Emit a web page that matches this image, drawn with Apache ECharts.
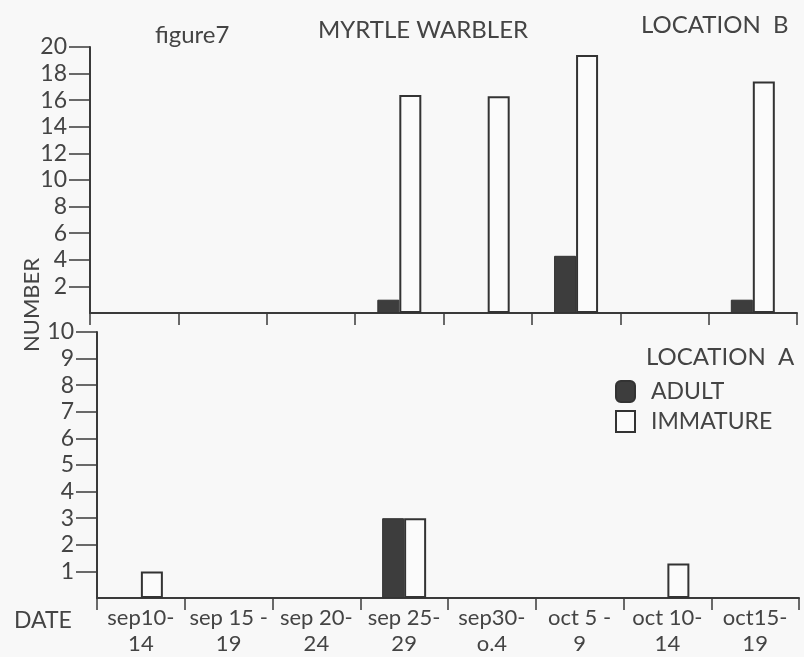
<!DOCTYPE html>
<html><head><meta charset="utf-8">
<script src="https://cdn.jsdelivr.net/npm/echarts@6/dist/echarts.min.js"></script>
<style>html,body{margin:0;padding:0;background:#f8f8f8}#c{width:804px;height:657px}</style>
</head><body><div id="c"></div>
<script>
// ---- data ----
const categories = ['sep10-\n14', 'sep 15 -\n19', 'sep 20-\n24', 'sep 25-\n29', 'sep30-\no.4', 'oct 5 -\n9', 'oct 10-\n14', 'oct15-\n19'];
const adultB = [0, 0, 0, 1, 0, 4.3, 0, 1];
const immatureB = [0, 0, 0, 16.4, 16.3, 19.4, 0, 17.4];
const adultA = [0, 0, 0, 3, 0, 0, 0, 0];
const immatureA = [1, 0, 0, 3, 0, 0, 1.3, 0];
const ticksB = [2, 4, 6, 8, 10, 12, 14, 16, 18, 20];
const ticksA = [1, 2, 3, 4, 5, 6, 7, 8, 9, 10];

const FONT = 'Lato, "DejaVu Sans", sans-serif';
const INK = '#3a3a3a';
const TXT = '#444';
const nz = a => a.map(v => (v === 0 ? null : v));

function xAxis(gi, showLabel) {
  return {
    gridIndex: gi, type: 'category', data: categories, boundaryGap: true,
    axisLine: { show: true, lineStyle: { color: INK, width: 2 } },
    axisTick: { show: true, length: 12, lineStyle: { color: INK, width: 1.5 } },
    axisLabel: { show: showLabel, interval: 0, fontFamily: FONT, fontSize: 22, lineHeight: 26, color: TXT, margin: 7 },
    splitLine: { show: false }
  };
}
function yAxis(gi, max, interval, ticks) {
  return {
    gridIndex: gi, type: 'value', min: 0, max: max, interval: interval,
    axisLine: { show: true, lineStyle: { color: INK, width: 2 } },
    axisTick: { show: true, length: 21, customValues: ticks, lineStyle: { color: INK, width: 1.5 } },
    axisLabel: { show: true, customValues: ticks, margin: 23, fontFamily: FONT, fontSize: 23, color: TXT },
    splitLine: { show: false }
  };
}
const adultStyle = { color: '#3d3d3d', borderColor: '#333', borderWidth: 1 };
const immStyle = { color: '#fbfbfb', borderColor: '#333', borderWidth: 2 };

const chart = echarts.init(document.getElementById('c'), null, { renderer: 'canvas' });
chart.setOption({
  backgroundColor: '#f8f8f8',
  animation: false,
  grid: [
    { left: 90, right: 7, top: 47, height: 266 },
    { left: 97, right: 5, top: 332, height: 266 }
  ],
  xAxis: [xAxis(0, false), xAxis(1, true)],
  yAxis: [yAxis(0, 20, 2, ticksB), yAxis(1, 10, 1, ticksA)],
  legend: {
    orient: 'vertical', left: 615, top: 380, padding: 0, itemWidth: 19, itemHeight: 21, itemGap: 7,
    data: [{ name: 'ADULT', icon: 'roundRect' }, { name: 'IMMATURE', icon: 'rect' }],
    textStyle: { fontFamily: FONT, fontSize: 23, color: TXT, padding: [0, 0, 0, 11] }
  },
  series: [
    { name: 'ADULT', type: 'bar', xAxisIndex: 0, yAxisIndex: 0, data: nz(adultB), barWidth: 22, barGap: '0%', itemStyle: adultStyle },
    { name: 'IMMATURE', type: 'bar', xAxisIndex: 0, yAxisIndex: 0, data: nz(immatureB), barWidth: 22, barGap: '0%', itemStyle: immStyle },
    { name: 'ADULT', type: 'bar', xAxisIndex: 1, yAxisIndex: 1, data: nz(adultA), barWidth: 22, barGap: '0%', itemStyle: adultStyle },
    { name: 'IMMATURE', type: 'bar', xAxisIndex: 1, yAxisIndex: 1, data: nz(immatureA), barWidth: 22, barGap: '0%', itemStyle: immStyle }
  ],
  graphic: [
    { type: 'text', x: 155, y: 35, style: { text: 'figure7', fontFamily: FONT, fontSize: 24, fill: TXT, textAlign: 'left', textVerticalAlign: 'middle' } },
    { type: 'text', x: 318, y: 30, style: { text: 'MYRTLE WARBLER', fontFamily: FONT, fontSize: 24, fill: TXT, textAlign: 'left', textVerticalAlign: 'middle' } },
    { type: 'text', x: 641, y: 25, style: { text: 'LOCATION  B', fontFamily: FONT, fontSize: 24, fill: TXT, textAlign: 'left', textVerticalAlign: 'middle' } },
    { type: 'text', x: 646, y: 357, style: { text: 'LOCATION  A', fontFamily: FONT, fontSize: 24, fill: TXT, textAlign: 'left', textVerticalAlign: 'middle' } },
    { type: 'text', x: 14, y: 621, style: { text: 'DATE', fontFamily: FONT, fontSize: 23, fill: TXT, textAlign: 'left', textVerticalAlign: 'middle' } },
    { type: 'text', x: 32, y: 305, rotation: Math.PI / 2, style: { text: 'NUMBER', fontFamily: FONT, fontSize: 22, fill: TXT, textAlign: 'center', textVerticalAlign: 'middle' } }
  ]
});
</script>
</body></html>
